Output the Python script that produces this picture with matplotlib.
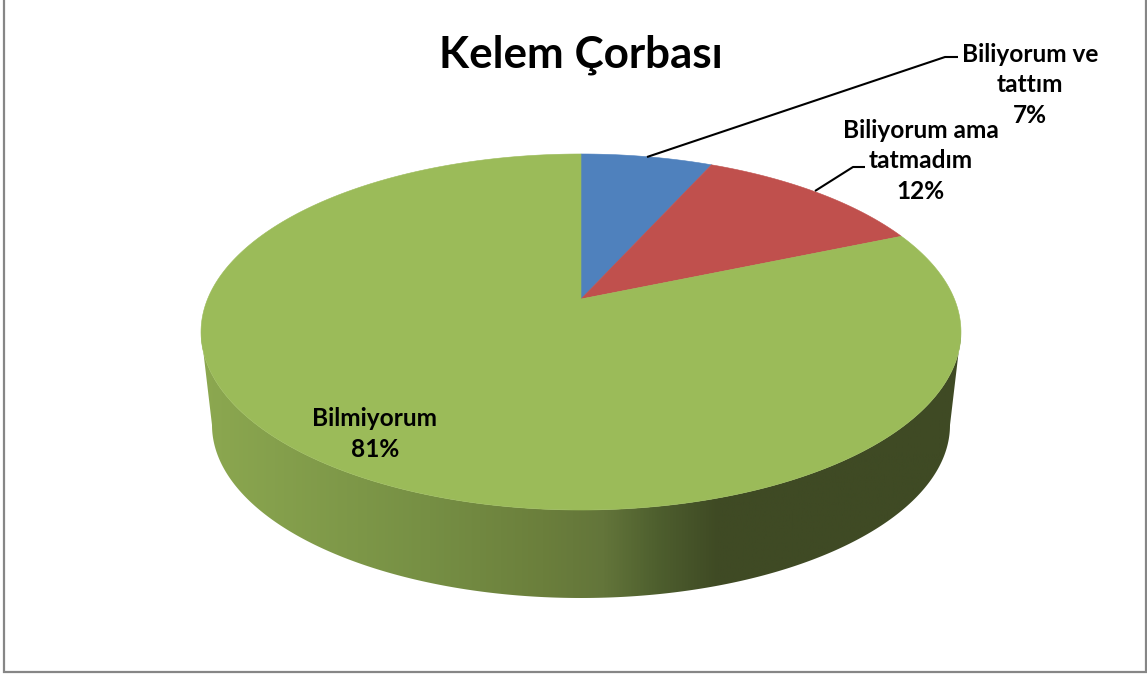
import numpy as np
import matplotlib
matplotlib.use("Agg")
import matplotlib.pyplot as plt
from matplotlib.patches import Polygon, Rectangle
from matplotlib.colors import LinearSegmentedColormap

# ---- data ----
title = "Kelem Çorbası"
categories = ["Biliyorum ve\ntattım", "Biliyorum ama\ntatmadım", "Bilmiyorum"]
values = [6.7, 11.9, 81.4]
colors = ["#4F81BD", "#C0504D", "#9BBB59"]

plt.rcParams["font.family"] = ["Lato", "DejaVu Sans"]
fig = plt.figure(figsize=(11.47, 6.77), dpi=100, facecolor="white")
ax = fig.add_axes([0, 0, 1, 1])
ax.set_xlim(0, 1147)
ax.set_ylim(677, 0)
ax.axis("off")

# chart frame
ax.add_patch(Rectangle((4, -3), 1142, 674.5, fc="white", ec="#868686", lw=1.6, zorder=0))

# perspective disc
CX, APEX_Y = 581.0, 299.0
P, KY, R = 0.1854, 171.9, 373.4


def project(theta):
    u, v = np.sin(theta), -np.cos(theta)
    d = 1 - P * v
    return CX + R * u / d, APEX_Y + KY * v / d


# side wall: gradient clipped to the rim silhouette
top_cy, top_rx, top_ry = 332.0, 380.0, 178.0
bot_cy, bot_rx, bot_ry = 425.0, 369.0, 173.0
t = np.linspace(0, np.pi, 300)
rim_top = np.c_[CX + top_rx * np.cos(t), top_cy + top_ry * np.sin(t)]
rim_bot = np.c_[CX + bot_rx * np.cos(t), bot_cy + bot_ry * np.sin(t)]
side = np.vstack([rim_top, rim_bot[::-1]])
side_poly = Polygon(side, closed=True, fc="none", ec="none")
ax.add_patch(side_poly)
cmap = LinearSegmentedColormap.from_list(
    "side",
    [(0.0, "#8CA850"), (0.30, "#768F44"), (0.45, "#6B7F3C"), (0.53, "#63753A"),
     (0.60, "#4E5F2E"), (0.68, "#3F4A24"), (1.0, "#3F4A24")],
)
im = ax.imshow(np.linspace(0, 1, 512)[None, :], cmap=cmap, aspect="auto",
               extent=(201, 961, 610, 300), zorder=1)
im.set_clip_path(side_poly)
ax.set_xlim(0, 1147)
ax.set_ylim(677, 0)

# top face slices, drawn from the values
frac = np.cumsum([0] + values) / sum(values)
for i, c in enumerate(colors):
    th = np.linspace(frac[i], frac[i + 1], 300) * 2 * np.pi
    x, y = project(th)
    pts = np.vstack([[CX, APEX_Y], np.c_[x, y]])
    ax.add_patch(Polygon(pts, closed=True, fc=c, ec=c, lw=0.4, zorder=2))

# title
ax.text(581, 55, title, ha="center", va="center", fontsize=31.7, fontweight="bold",
        color="black", zorder=5)

# leader lines
leader_x = [[647, 945, 958], [815, 853, 865]]
leader_y = [[157, 57, 57], [191, 167, 167]]
for lx, ly in zip(leader_x, leader_y):
    ax.plot(lx, ly, color="black", lw=1.5, zorder=4, solid_capstyle="butt")

# data labels
label_pos = [(1030, 85), (921, 161), (375, 434)]
for name, v, (lx, ly) in zip(categories, values, label_pos):
    ax.text(lx, ly, f"{name}\n{round(v)}%", ha="center", va="center", fontsize=17.6,
            fontweight="bold", color="black", linespacing=1.42, zorder=5)

fig.savefig("out.png", dpi=100)
